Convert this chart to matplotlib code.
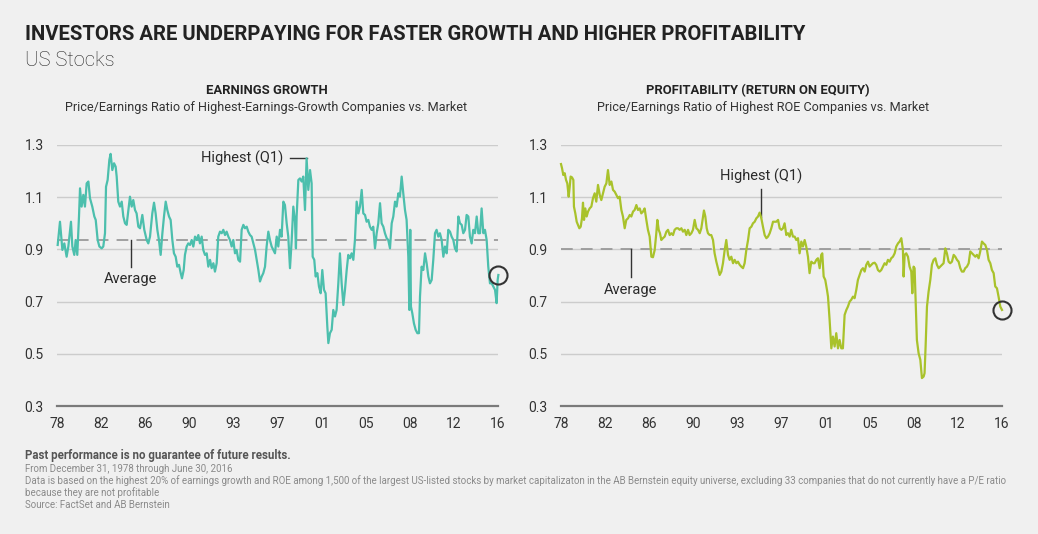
import matplotlib
matplotlib.use("Agg")
import matplotlib.pyplot as plt

plt.rcParams['font.family'] = ['Roboto', 'DejaVu Sans']

# ---- datos ----
growth_years = [
    1978.06, 1978.26, 1978.47, 1978.64, 1978.84, 1978.99, 1979.22, 1979.34, 1979.51, 1979.63,
    1979.77, 1979.92, 1980.01, 1980.15, 1980.30, 1980.44, 1980.59, 1980.74, 1980.88, 1981.08,
    1981.26, 1981.38, 1981.55, 1981.70, 1981.90, 1982.04, 1982.19, 1982.28, 1982.42, 1982.57,
    1982.68, 1982.83, 1982.98, 1983.12, 1983.21, 1983.35, 1983.50, 1983.65, 1983.79, 1983.94,
    1984.08, 1984.23, 1984.37, 1984.52, 1984.66, 1984.81, 1984.95, 1985.10, 1985.25, 1985.45,
    1985.62, 1985.83, 1985.97, 1986.12, 1986.32, 1986.47, 1986.61, 1986.76, 1986.90, 1987.05,
    1987.20, 1987.34, 1987.49, 1987.63, 1987.78, 1987.92, 1988.07, 1988.21, 1988.36, 1988.50,
    1988.65, 1988.80, 1988.91, 1989.06, 1989.17, 1989.32, 1989.46, 1989.61, 1989.76, 1989.90,
    1990.05, 1990.19, 1990.34, 1990.48, 1990.63, 1990.77, 1990.92, 1991.07, 1991.21, 1991.36,
    1991.50, 1991.65, 1991.79, 1991.94, 1992.08, 1992.23, 1992.38, 1992.52, 1992.67, 1992.81,
    1992.96, 1993.10, 1993.25, 1993.39, 1993.54, 1993.68, 1993.83, 1993.98, 1994.12, 1994.27,
    1994.41, 1994.56, 1994.70, 1994.85, 1994.99, 1995.14, 1995.29, 1995.43, 1995.58, 1995.72,
    1995.87, 1996.01, 1996.16, 1996.30, 1996.45, 1996.59, 1996.74, 1996.89, 1997.03, 1997.18,
    1997.32, 1997.47, 1997.61, 1997.76, 1997.90, 1998.05, 1998.19, 1998.34, 1998.49, 1998.63,
    1998.78, 1998.86, 1998.92, 1999.07, 1999.21, 1999.36, 1999.50, 1999.65, 1999.79, 1999.94,
    2000.09, 2000.23, 2000.32, 2000.46, 2000.58, 2000.73, 2000.87, 2001.02, 2001.16, 2001.31,
    2001.45, 2001.60, 2001.69, 2001.83, 2001.98, 2002.12, 2002.27, 2002.41, 2002.56, 2002.70,
    2002.85, 2003.00, 2003.14, 2003.29, 2003.43, 2003.58, 2003.72, 2003.87, 2004.01, 2004.16,
    2004.31, 2004.45, 2004.60, 2004.74, 2004.89, 2005.03, 2005.18, 2005.32, 2005.47, 2005.61,
    2005.76, 2005.91, 2006.05, 2006.20, 2006.34, 2006.49, 2006.63, 2006.78, 2006.92, 2007.07,
    2007.22, 2007.36, 2007.51, 2007.65, 2007.80, 2007.94, 2008.09, 2008.23, 2008.38, 2008.52,
    2008.67, 2008.76, 2008.84, 2008.90, 2009.02, 2009.16, 2009.31, 2009.46, 2009.60, 2009.69,
    2009.83, 2009.98, 2010.13, 2010.27, 2010.42, 2010.56, 2010.71, 2010.85, 2011.00, 2011.14,
    2011.29, 2011.43, 2011.58, 2011.73, 2011.87, 2012.02, 2012.16, 2012.31, 2012.45, 2012.60,
    2012.74, 2012.89, 2013.04, 2013.18, 2013.33, 2013.47, 2013.62, 2013.76, 2013.91, 2014.05,
    2014.20, 2014.34, 2014.49, 2014.64, 2014.78, 2014.93, 2015.07, 2015.22, 2015.36, 2015.51,
    2015.65, 2015.80, 2015.95, 2016.09, 2016.24, 2016.38, 2016.47, 2016.53,
]
growth_ratio = [
    0.917, 1.006, 0.898, 0.923, 0.872, 0.911, 1.006, 0.911, 0.879, 0.936,
    0.879, 1.026, 1.134, 1.064, 1.109, 1.064, 1.153, 1.160, 1.096, 1.064,
    1.026, 1.013, 0.936, 0.911, 0.904, 0.911, 0.962, 1.140, 1.166, 1.243,
    1.266, 1.204, 1.230, 1.217, 1.179, 1.083, 1.064, 1.083, 1.026, 1.000,
    0.994, 1.051, 1.102, 1.064, 1.089, 1.051, 1.038, 0.987, 0.981, 1.032,
    0.975, 0.936, 0.923, 0.949, 1.038, 1.079, 1.038, 0.975, 0.936, 0.879,
    0.962, 1.026, 1.083, 1.051, 1.026, 1.013, 0.936, 0.885, 0.872, 0.834,
    0.841, 0.809, 0.789, 0.821, 0.879, 0.911, 0.923, 0.917, 0.936, 0.911,
    0.949, 0.936, 0.955, 0.923, 0.949, 0.898, 0.879, 0.885, 0.834, 0.860,
    0.828, 0.847, 0.815, 0.847, 0.949, 0.968, 0.962, 0.975, 0.955, 0.968,
    0.949, 0.936, 0.911, 0.936, 0.885, 0.898, 0.860, 0.853, 0.975, 0.994,
    0.981, 0.987, 0.968, 0.955, 0.949, 0.923, 0.898, 0.860, 0.821, 0.777,
    0.796, 0.809, 0.834, 0.911, 0.968, 0.936, 0.911, 0.898, 0.885, 0.949,
    0.911, 0.975, 0.949, 1.083, 1.070, 1.000, 0.949, 0.828, 0.936, 1.064,
    1.006, 0.904, 1.026, 1.166, 1.172, 1.160, 1.179, 1.051, 1.249, 1.128,
    1.204, 1.153, 0.872, 0.860, 0.796, 0.809, 0.758, 0.732, 0.821, 0.745,
    0.732, 0.604, 0.541, 0.579, 0.592, 0.668, 0.643, 0.668, 0.770, 0.885,
    0.770, 0.687, 0.745, 0.821, 0.879, 0.866, 0.885, 0.860, 0.936, 1.083,
    1.038, 1.064, 1.128, 1.038, 1.032, 1.006, 1.013, 0.987, 0.975, 0.987,
    0.904, 0.962, 1.000, 1.077, 1.000, 0.987, 0.962, 0.943, 0.936, 0.904,
    1.000, 1.026, 1.083, 1.064, 1.115, 1.102, 1.179, 1.115, 1.051, 1.013,
    0.872, 0.668, 0.975, 0.681, 0.655, 0.617, 0.592, 0.579, 0.579, 0.719,
    0.834, 0.821, 0.885, 0.847, 0.796, 0.770, 0.783, 0.860, 0.962, 0.975,
    0.949, 0.962, 0.936, 0.872, 0.911, 0.885, 0.975, 0.968, 0.949, 0.936,
    0.904, 0.892, 1.026, 1.000, 0.994, 0.962, 0.975, 1.032, 1.026, 0.949,
    0.923, 0.975, 0.962, 1.026, 0.962, 0.962, 1.057, 0.962, 0.975, 0.936,
    0.834, 0.770, 0.770, 0.758, 0.745, 0.694, 0.783, 0.802,
]

roe_years = [
    1978.00, 1978.09, 1978.20, 1978.32, 1978.44, 1978.55, 1978.67, 1978.76, 1978.84, 1978.96,
    1979.08, 1979.13, 1979.25, 1979.37, 1979.48, 1979.60, 1979.72, 1979.83, 1979.92, 1980.01,
    1980.12, 1980.24, 1980.36, 1980.50, 1980.65, 1980.79, 1980.94, 1981.08, 1981.23, 1981.38,
    1981.52, 1981.67, 1981.81, 1981.96, 1982.10, 1982.25, 1982.40, 1982.54, 1982.69, 1982.83,
    1982.98, 1983.12, 1983.27, 1983.41, 1983.56, 1983.70, 1983.85, 1984.00, 1984.14, 1984.29,
    1984.43, 1984.58, 1984.72, 1984.87, 1985.01, 1985.16, 1985.30, 1985.45, 1985.59, 1985.74,
    1985.89, 1986.03, 1986.18, 1986.32, 1986.41, 1986.53, 1986.64, 1986.76, 1986.90, 1987.05,
    1987.20, 1987.34, 1987.49, 1987.63, 1987.78, 1987.92, 1988.07, 1988.21, 1988.36, 1988.51,
    1988.65, 1988.80, 1988.94, 1989.09, 1989.23, 1989.38, 1989.52, 1989.67, 1989.82, 1989.96,
    1990.11, 1990.25, 1990.40, 1990.48, 1990.60, 1990.72, 1990.83, 1990.98, 1991.12, 1991.27,
    1991.41, 1991.56, 1991.70, 1991.85, 1992.00, 1992.14, 1992.29, 1992.43, 1992.58, 1992.72,
    1992.87, 1993.02, 1993.16, 1993.31, 1993.45, 1993.60, 1993.74, 1993.89, 1994.03, 1994.18,
    1994.33, 1994.47, 1994.62, 1994.76, 1994.91, 1995.05, 1995.20, 1995.34, 1995.49, 1995.63,
    1995.78, 1995.93, 1996.07, 1996.22, 1996.36, 1996.51, 1996.65, 1996.80, 1996.95, 1997.09,
    1997.24, 1997.38, 1997.52, 1997.67, 1997.81, 1997.96, 1998.10, 1998.25, 1998.40, 1998.54,
    1998.69, 1998.83, 1998.98, 1999.12, 1999.27, 1999.41, 1999.56, 1999.70, 1999.85, 2000.00,
    2000.14, 2000.29, 2000.43, 2000.58, 2000.72, 2000.81, 2000.93, 2001.07, 2001.22, 2001.31,
    2001.45, 2001.60, 2001.74, 2001.89, 2002.03, 2002.18, 2002.32, 2002.47, 2002.61, 2002.76,
    2002.91, 2003.05, 2003.20, 2003.34, 2003.49, 2003.63, 2003.78, 2003.92, 2004.07, 2004.22,
    2004.36, 2004.51, 2004.65, 2004.80, 2004.94, 2005.09, 2005.23, 2005.38, 2005.52, 2005.67,
    2005.82, 2005.96, 2006.11, 2006.25, 2006.40, 2006.54, 2006.69, 2006.83, 2006.98, 2007.13,
    2007.27, 2007.42, 2007.56, 2007.71, 2007.85, 2007.91, 2008.00, 2008.14, 2008.29, 2008.43,
    2008.58, 2008.67, 2008.78, 2008.87, 2008.96, 2009.07, 2009.22, 2009.37, 2009.51, 2009.66,
    2009.74, 2009.83, 2009.95, 2010.09, 2010.24, 2010.38, 2010.53, 2010.68, 2010.82, 2010.97,
    2011.11, 2011.26, 2011.40, 2011.55, 2011.69, 2011.84, 2011.98, 2012.13, 2012.28, 2012.42,
    2012.57, 2012.71, 2012.86, 2013.00, 2013.15, 2013.29, 2013.44, 2013.59, 2013.73, 2013.88,
    2014.02, 2014.17, 2014.31, 2014.46, 2014.60, 2014.75, 2014.89, 2015.04, 2015.19, 2015.33,
    2015.48, 2015.62, 2015.77, 2015.91, 2016.06, 2016.20, 2016.35, 2016.50,
]
roe_ratio = [
    1.227, 1.211, 1.185, 1.192, 1.166, 1.153, 1.102, 1.140, 1.179, 1.176,
    1.166, 1.064, 1.038, 1.006, 0.994, 0.981, 0.987, 1.019, 1.079, 1.013,
    1.057, 1.026, 1.045, 1.057, 1.064, 1.096, 1.115, 1.083, 1.147, 1.109,
    1.089, 1.115, 1.140, 1.153, 1.204, 1.147, 1.160, 1.128, 1.121, 1.109,
    1.096, 1.102, 1.051, 1.026, 0.981, 1.013, 1.019, 1.032, 1.026, 1.045,
    1.051, 1.070, 1.051, 1.057, 1.038, 1.045, 1.057, 1.013, 0.975, 0.949,
    0.872, 0.870, 0.898, 0.962, 1.013, 0.975, 0.962, 0.936, 0.943, 0.949,
    0.968, 0.975, 0.955, 0.962, 0.955, 0.975, 0.981, 0.981, 0.975, 0.981,
    0.968, 0.975, 0.955, 0.975, 0.955, 0.962, 0.975, 1.013, 0.981, 0.975,
    0.962, 0.981, 1.026, 1.049, 1.026, 0.981, 0.962, 0.955, 0.955, 0.936,
    0.885, 0.853, 0.828, 0.802, 0.815, 0.847, 0.898, 0.936, 0.879, 0.860,
    0.872, 0.847, 0.860, 0.847, 0.853, 0.841, 0.834, 0.828, 0.847, 0.898,
    0.936, 0.981, 0.987, 1.000, 1.006, 1.019, 1.026, 1.041, 1.019, 0.987,
    0.955, 0.943, 0.949, 0.962, 0.981, 1.006, 1.006, 1.006, 1.013, 0.981,
    0.975, 0.981, 1.000, 0.955, 0.962, 0.949, 0.975, 0.949, 0.949, 0.936,
    0.943, 0.885, 0.930, 0.911, 0.936, 0.911, 0.872, 0.809, 0.853, 0.847,
    0.847, 0.860, 0.866, 0.828, 0.879, 0.885, 0.796, 0.783, 0.745, 0.719,
    0.630, 0.521, 0.566, 0.528, 0.579, 0.521, 0.553, 0.521, 0.521, 0.649,
    0.668, 0.681, 0.700, 0.707, 0.719, 0.713, 0.745, 0.783, 0.802, 0.821,
    0.828, 0.815, 0.841, 0.853, 0.834, 0.841, 0.847, 0.849, 0.841, 0.821,
    0.815, 0.821, 0.834, 0.847, 0.841, 0.860, 0.853, 0.866, 0.872, 0.885,
    0.911, 0.923, 0.930, 0.943, 0.898, 0.796, 0.879, 0.885, 0.872, 0.834,
    0.815, 0.732, 0.834, 0.828, 0.707, 0.553, 0.502, 0.477, 0.407, 0.413,
    0.426, 0.528, 0.681, 0.738, 0.783, 0.841, 0.860, 0.866, 0.841, 0.828,
    0.834, 0.841, 0.847, 0.904, 0.885, 0.853, 0.847, 0.853, 0.879, 0.872,
    0.860, 0.853, 0.828, 0.815, 0.815, 0.828, 0.834, 0.847, 0.892, 0.885,
    0.879, 0.872, 0.879, 0.866, 0.892, 0.930, 0.923, 0.917, 0.898, 0.860,
    0.847, 0.821, 0.809, 0.758, 0.751, 0.719, 0.681, 0.668,
]

growth_avg = 0.935
roe_avg = 0.90

x_labels = ['78', '82', '86', '90', '93', '97', '01', '05', '08', '12', '16']
y_ticks = [0.3, 0.5, 0.7, 0.9, 1.1, 1.3]

TEAL = '#4cbfad'
LIME = '#a9c22b'
BG = '#f0f0f0'
W, H = 1038, 534


def px_x(px):
    return px / W


def px_y(py):
    return 1 - py / H


fig = plt.figure(figsize=(W / 100, H / 100), dpi=100, facecolor=BG)

ax1 = fig.add_axes([px_x(57), px_y(406), 441 / W, 261 / H])
ax2 = fig.add_axes([px_x(561), px_y(406), 441 / W, 261 / H])


def preparar_eje(ax, years, ratio, color, avg):
    ax.set_facecolor(BG)
    ax.set_xlim(1978, 2016.5)
    ax.set_ylim(0.3, 1.3)
    for v in y_ticks[1:]:
        ax.axhline(v, color='#cccccc', lw=1.0, zorder=1)
    ax.axhline(0.3, color='#7a7a7a', lw=1.6, zorder=1, clip_on=False)
    ax.axhline(avg, color='#9a9a9a', lw=1.3, dashes=(6.5, 4.5), zorder=2)
    ax.plot(years, ratio, color=color, lw=1.6, zorder=3, clip_on=False)
    # circulo en el ultimo dato
    ax.plot(years[-1], ratio[-1], marker='o', ms=13, mfc='none', mec='#333333',
            mew=1.5, zorder=4, clip_on=False)
    for s in ax.spines.values():
        s.set_visible(False)
    ticks = [1978 + i * (2016.5 - 1978) / 10 for i in range(11)]
    ax.set_xticks(ticks)
    ax.set_xticklabels(x_labels)
    ax.set_yticks(y_ticks)
    ax.set_yticklabels(['%.1f' % v for v in y_ticks])
    ax.tick_params(length=0, labelsize=10, colors='#333333')
    ax.tick_params(axis='y', pad=9.5)
    ax.tick_params(axis='x', pad=8)


preparar_eje(ax1, growth_years, growth_ratio, TEAL, growth_avg)
preparar_eje(ax2, roe_years, roe_ratio, LIME, roe_avg)

# anotaciones
ann = dict(fontsize=10.5, color='#2a2a2a')
ax1.plot([1998.34, 1999.83], [1.25, 1.25], color='#333333', lw=1.0)
ax1.text(1997.73, 1.25, 'Highest (Q1)', ha='right', va='center', **ann)
ax1.plot([1984.46, 1984.46], [growth_avg, 0.833], color='#333333', lw=1.0)
ax1.text(1984.46, 0.787, 'Average', ha='center', va='center', **ann)

ax2.plot([1995.46, 1995.46], [1.131, 1.025], color='#333333', lw=1.0)
ax2.text(1995.46, 1.181, 'Highest (Q1)', ha='center', va='center', **ann)
ax2.plot([1984.11, 1984.11], [roe_avg, 0.794], color='#333333', lw=1.0)
ax2.text(1984.11, 0.744, 'Average', ha='center', va='center', **ann)

# titulos
fig.text(px_x(25), px_y(40), 'INVESTORS ARE UNDERPAYING FOR FASTER GROWTH AND HIGHER PROFITABILITY',
         fontsize=14.6, fontweight='bold', color='#222222', va='baseline')
fig.text(px_x(25), px_y(66), 'US Stocks', fontsize=14.5, fontweight='light',
         color='#222222', va='baseline')

fig.text(px_x(267), px_y(94), 'EARNINGS GROWTH', fontsize=9.4, fontweight='bold',
         color='#222222', ha='center', va='baseline')
fig.text(px_x(266), px_y(111), 'Price/Earnings Ratio of Highest-Earnings-Growth Companies vs. Market',
         fontsize=9.1, color='#333333', ha='center', va='baseline')
fig.text(px_x(758), px_y(94), 'PROFITABILITY (RETURN ON EQUITY)', fontsize=9.4,
         fontweight='bold', color='#222222', ha='center', va='baseline')
fig.text(px_x(763), px_y(111), 'Price/Earnings Ratio of Highest ROE Companies vs. Market',
         fontsize=9.1, color='#333333', ha='center', va='baseline')

# notas al pie
notas = [
    'From December 31, 1978 through June 30, 2016',
    'Data is based on the highest 20% of earnings growth and ROE among 1,500 of the largest '
    'US-listed stocks by market capitalizaton in the AB Bernstein equity universe, excluding '
    '33 companies that do not currently have a P/E ratio',
    'because they are not profitable',
    'Source: FactSet and AB Bernstein',
]
fig.text(px_x(25), px_y(459), 'Past performance is no guarantee of future results.',
         fontsize=8.3, fontweight='bold', color='#555555', va='baseline')
for i, t in enumerate(notas):
    fig.text(px_x(25), px_y(471.5 + 12 * i), t, fontsize=7.0, color='#8a8a8a',
             va='baseline')

fig.savefig('out.png', dpi=100, facecolor=BG)
